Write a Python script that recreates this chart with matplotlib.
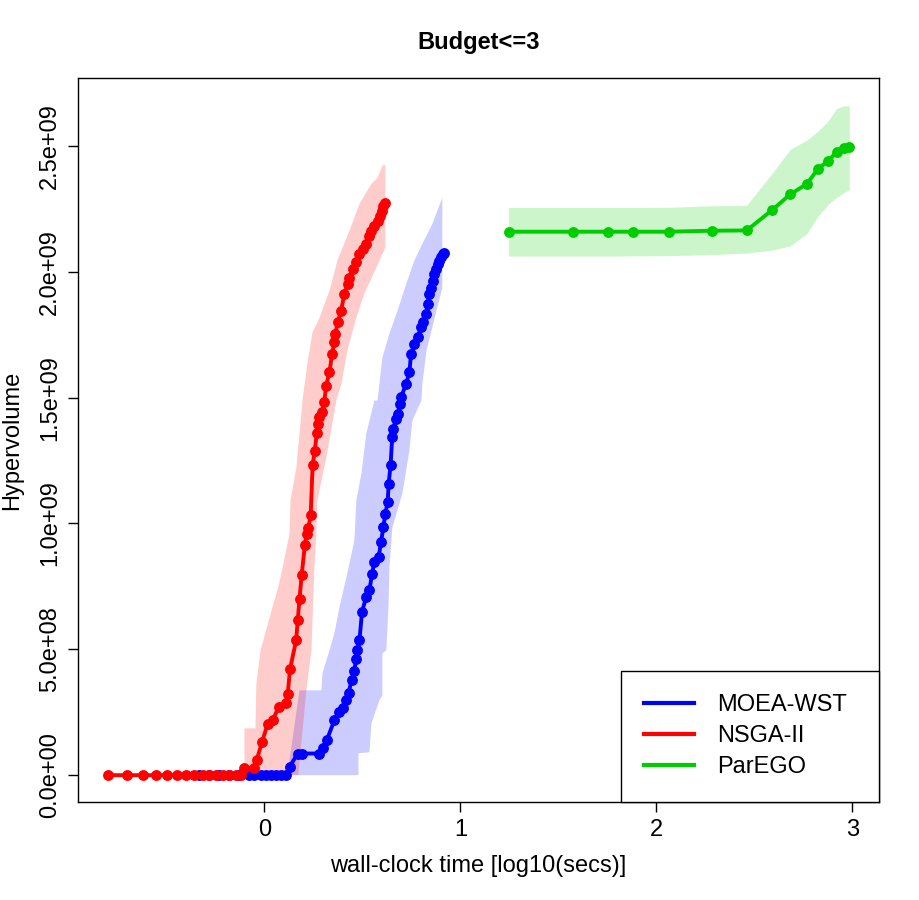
import numpy as np
import matplotlib
matplotlib.use("Agg")
import matplotlib.pyplot as plt

# hypervolume values are given in units of 1e9
# NSGA-II (red)
nsga_x = [-0.800, -0.703, -0.621, -0.552, -0.498, -0.447, -0.400, -0.357, -0.315, -0.281,
          -0.246, -0.212, -0.179, -0.145, -0.119, -0.102, -0.051, -0.039, -0.012, 0.017,
          0.042, 0.073, 0.111, 0.119, 0.131, 0.162, 0.170, 0.179, 0.190, 0.206,
          0.216, 0.224, 0.236, 0.246, 0.257, 0.267, 0.272, 0.281, 0.294, 0.305,
          0.315, 0.332, 0.345, 0.357, 0.362, 0.374, 0.391, 0.408, 0.425, 0.434,
          0.451, 0.468, 0.485, 0.502, 0.519, 0.536, 0.544, 0.561, 0.578, 0.592,
          0.600, 0.607, 0.614]
nsga_hv = [0, 0, 0, 0, 0, 0, 0, 0, 0, 0,
           0, 0, 0, 0, 0, 0.029, 0.029, 0.062, 0.132, 0.205,
           0.218, 0.271, 0.287, 0.324, 0.423, 0.536, 0.615, 0.701, 0.794, 0.913,
           0.959, 0.983, 1.032, 1.234, 1.287, 1.360, 1.396, 1.422, 1.444, 1.481,
           1.548, 1.600, 1.673, 1.719, 1.753, 1.799, 1.845, 1.911, 1.951, 1.977,
           2.011, 2.037, 2.070, 2.090, 2.110, 2.143, 2.163, 2.182, 2.202, 2.222,
           2.242, 2.262, 2.275]
nsga_up_x = [-0.102, -0.102, -0.046, -0.041, -0.020, 0.041, 0.066, 0.087, 0.128, 0.133,
             0.163, 0.179, 0.194, 0.219, 0.245, 0.281, 0.332, 0.372, 0.434, 0.485,
             0.546, 0.577, 0.602, 0.607]
nsga_up = [0, 0.186, 0.186, 0.365, 0.496, 0.667, 0.734, 0.802, 0.960, 1.091,
           1.222, 1.357, 1.488, 1.635, 1.758, 1.817, 1.924, 2.044, 2.163, 2.270,
           2.349, 2.373, 2.420, 2.424]
nsga_lo_x = [-0.102, 0.173, 0.214, 0.240, 0.255, 0.265, 0.270, 0.316, 0.367, 0.393,
             0.423, 0.469, 0.510, 0.571, 0.617, 0.617]
nsga_lo = [0, 0, 0.337, 0.496, 0.825, 0.960, 1.091, 1.262, 1.488, 1.555,
           1.686, 1.817, 1.913, 2.016, 2.095, 2.424]

# MOEA-WST (blue)
moea_x = [-0.332, -0.281, -0.230, -0.179, -0.128, -0.077, -0.051, -0.017, 0.009, 0.034,
          0.060, 0.085, 0.111, 0.128, 0.170, 0.194, 0.281, 0.297, 0.318, 0.357,
          0.383, 0.403, 0.417, 0.430, 0.445, 0.459, 0.468, 0.473, 0.485, 0.498,
          0.519, 0.536, 0.549, 0.561, 0.583, 0.595, 0.607, 0.617, 0.629, 0.634,
          0.644, 0.652, 0.658, 0.672, 0.680, 0.692, 0.697, 0.723, 0.740, 0.748,
          0.765, 0.782, 0.799, 0.811, 0.825, 0.833, 0.842, 0.850, 0.859, 0.867,
          0.876, 0.884, 0.893, 0.901, 0.910, 0.918]
moea_hv = [0, 0, 0, 0, 0, 0, 0, 0, 0, 0,
           0, 0, 0, 0.033, 0.086, 0.086, 0.086, 0.106, 0.139, 0.218,
           0.251, 0.265, 0.298, 0.327, 0.380, 0.414, 0.463, 0.496, 0.536, 0.648,
           0.708, 0.734, 0.800, 0.846, 0.866, 0.926, 0.985, 1.038, 1.085, 1.157,
           1.234, 1.342, 1.376, 1.415, 1.435, 1.475, 1.501, 1.554, 1.600, 1.673,
           1.713, 1.739, 1.779, 1.799, 1.832, 1.871, 1.911, 1.937, 1.964, 1.990,
           2.011, 2.030, 2.044, 2.057, 2.070, 2.076]
moea_up_x = [0.117, 0.179, 0.291, 0.296, 0.316, 0.332, 0.357, 0.383, 0.423, 0.459,
             0.469, 0.495, 0.520, 0.561, 0.577, 0.602, 0.638, 0.679, 0.724, 0.765,
             0.806, 0.857, 0.908]
moea_up = [0, 0.337, 0.337, 0.405, 0.456, 0.496, 0.563, 0.667, 0.802, 0.933,
           1.091, 1.198, 1.357, 1.488, 1.488, 1.659, 1.754, 1.845, 1.952, 2.044,
           2.111, 2.190, 2.294]
moea_lo_x = [0.117, 0.480, 0.480, 0.536, 0.546, 0.587, 0.602, 0.602, 0.622, 0.633,
             0.638, 0.653, 0.704, 0.740, 0.755, 0.801, 0.806, 0.827, 0.878, 0.908,
             0.908]
moea_lo = [0, 0, 0.087, 0.091, 0.206, 0.298, 0.317, 0.484, 0.496, 0.667,
           0.825, 0.984, 1.119, 1.290, 1.409, 1.488, 1.555, 1.686, 1.845, 1.936,
           2.294]

# ParEGO (green)
parego_x = [1.246, 1.573, 1.751, 1.883, 2.066, 2.282, 2.461, 2.593, 2.684, 2.767,
            2.827, 2.878, 2.920, 2.959, 2.985]
parego_hv = [2.159, 2.159, 2.159, 2.159, 2.159, 2.163, 2.164, 2.246, 2.308, 2.348,
             2.410, 2.440, 2.476, 2.493, 2.496]
parego_up = [2.255, 2.255, 2.255, 2.255, 2.256, 2.262, 2.264, 2.393, 2.487, 2.522,
             2.560, 2.600, 2.649, 2.659, 2.659]
parego_lo = [2.062, 2.062, 2.062, 2.063, 2.064, 2.068, 2.074, 2.086, 2.103, 2.150,
             2.222, 2.268, 2.295, 2.315, 2.325]

x_ticks = [0, 1, 2, 3]
y_ticks = [0.0, 0.5, 1.0, 1.5, 2.0, 2.5]
y_tick_labels = ["0.0e+00", "5.0e+08", "1.0e+09", "1.5e+09", "2.0e+09", "2.5e+09"]

BLUE = "#0000FF"
RED = "#FF0000"
GREEN = "#00CD00"
E9 = 1e9


def band(x_up, up, x_lo, lo, color):
    xs = list(x_up) + list(x_lo)[::-1]
    ys = list(up) + list(lo)[::-1]
    plt.fill(xs, np.array(ys) * E9, color=color, alpha=0.2, lw=0)


def main():
    plt.rcParams["font.family"] = ["Liberation Sans", "DejaVu Sans"]
    plt.rcParams["font.size"] = 17

    fig = plt.figure(figsize=(9.2, 9.0), dpi=100)
    ax = fig.add_axes([0.0848, 0.1089, 0.8706, 0.8044])

    band(moea_up_x, moea_up, moea_lo_x, moea_lo, BLUE)
    band(nsga_up_x, nsga_up, nsga_lo_x, nsga_lo, RED)
    plt.fill_between(parego_x, np.array(parego_lo) * E9, np.array(parego_up) * E9,
                     color=GREEN, alpha=0.2, lw=0)

    style = dict(lw=2.8, marker="o", ms=6.8)
    plt.plot(moea_x, np.array(moea_hv) * E9, color=BLUE, label="MOEA-WST", **style)
    plt.plot(nsga_x, np.array(nsga_hv) * E9, color=RED, label="NSGA-II", **style)
    plt.plot(parego_x, np.array(parego_hv) * E9, color=GREEN, label="ParEGO", **style)

    # R-style 4% padding around data range
    xmin, xmax = -0.800, 2.985
    ymin, ymax = 0.0, 2.663
    px = 0.04 * (xmax - xmin)
    py = 0.04 * (ymax - ymin)
    plt.xlim(xmin - px, xmax + px)
    plt.ylim((ymin - py) * E9, (ymax + py) * E9)

    plt.xticks(x_ticks, [str(t) for t in x_ticks])
    plt.yticks(np.array(y_ticks) * E9, y_tick_labels, rotation=90, va="center")
    ax.tick_params(direction="out", length=7.2, width=1, pad=5)
    for s in ax.spines.values():
        s.set_linewidth(1)

    plt.xlabel("wall-clock time [log10(secs)]", labelpad=10)
    plt.ylabel("Hypervolume")
    ax.yaxis.set_label_coords(-0.068, 0.5)
    plt.title("Budget<=3", fontweight="bold", fontsize=17, pad=21)

    # legend box sits in the lower right corner, extra width goes to the right
    leg = plt.legend(loc="lower right", bbox_to_anchor=(0.6775, 0.0, 0.3225, 0.2),
                     mode="expand", borderaxespad=0, fancybox=False,
                     edgecolor="black", framealpha=1, handlelength=2.1,
                     handletextpad=1.0, borderpad=1.0, labelspacing=0.38)
    leg.get_frame().set_linewidth(1)
    for h in leg.get_lines():
        h.set_marker("")
        h.set_linewidth(3.0)

    plt.savefig("out.png", dpi=100)
    plt.close()


if __name__ == "__main__":
    main()
